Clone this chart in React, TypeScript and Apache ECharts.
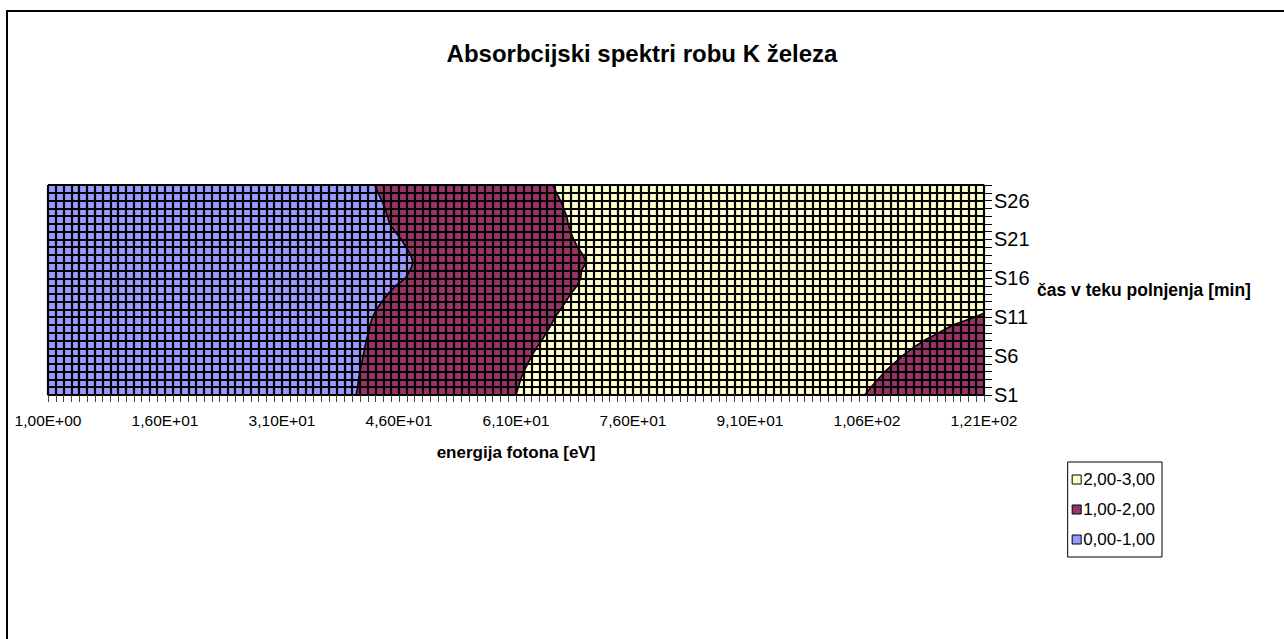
import React, { useEffect, useRef } from 'react';
import * as echarts from 'echarts';

// ---- data ----
const energyMin = 1;
const energyMax = 121;
const energyLabelStep = 15;
const rowLabels = ['S1','S2','S3','S4','S5','S6','S7','S8','S9','S10','S11','S12','S13','S14','S15','S16','S17','S18','S19','S20','S21','S22','S23','S24','S25','S26','S27','S28'];
const rowNumbers = [1,2,3,4,5,6,7,8,9,10,11,12,13,14,15,16,17,18,19,20,21,22,23,24,25,26,27,28];
const rowLabelStep = 5;

const bandNames = ['0,00-1,00', '1,00-2,00', '2,00-3,00'];
const bandColors = ['#9999FF', '#993366', '#FFFFCC'];

// energy at which value crosses 1.00 (blue -> maroon), per row S1..S28
const boundary1 = [40.5, 40.7, 40.8, 41.0, 41.2, 41.4, 41.6, 41.8, 42.1, 42.3, 42.6, 43.1, 43.8, 44.6, 45.5, 46.8, 47.4, 47.8, 47.5, 46.9, 46.3, 45.5, 44.8, 44.5, 44.2, 43.8, 43.3, 42.9];
// energy at which value crosses 2.00 (maroon -> yellow), per row S1..S28
const boundary2 = [61.0, 61.3, 61.6, 62.0, 62.5, 63.0, 63.6, 64.3, 64.9, 65.5, 66.0, 66.7, 67.4, 68.0, 68.8, 69.3, 69.4, 70.0, 69.6, 68.9, 68.4, 68.0, 67.7, 67.5, 67.1, 66.7, 66.2, 65.7];
// energy at which value falls back below 2.00 at high energy (yellow -> maroon), rows S1..S11
const boundary3 = [105.7, 106.5, 107.4, 108.3, 109.4, 110.5, 111.8, 113.3, 115.2, 117.0, 119.8];
const boundary3EndRow = 11.5;

const FONT = '"Liberation Sans", Arial, sans-serif';

function sci(v: number): string {
  const [m, e] = v.toExponential(2).split('e');
  const sign = e[0] === '-' ? '-' : '+';
  const digits = e.replace(/[+-]/, '').padStart(2, '0');
  return m.replace('.', ',') + 'E' + sign + digits;
}

export default function App() {
  const ref = useRef<HTMLDivElement>(null);
  useEffect(() => {
    if (!ref.current) return;
    const chart = echarts.init(ref.current, null, { renderer: 'svg' });
    const rMin = rowNumbers[0];
    const rMax = rowNumbers[rowNumbers.length - 1];

    const line = (api: any, xs: number[], rows: number[]) => xs.map((x, i) => api.coord([x, rows[i]]));

    const option: any = {
      animation: false,
      backgroundColor: '#fff',
      title: {
        text: 'Absorbcijski spektri robu K železa',
        left: 'center',
        top: 36,
        textStyle: { fontFamily: FONT, fontSize: 24, fontWeight: 'bold', color: '#000' },
      },
      legend: {
        orient: 'vertical',
        right: 1284 - 1162,
        top: 462,
        data: [bandNames[2], bandNames[1], bandNames[0]],
        icon: 'rect',
        itemWidth: 9,
        itemHeight: 9,
        itemGap: 13,
        padding: [9, 7, 9, 4],
        borderColor: '#000',
        borderWidth: 1,
        itemStyle: { borderColor: '#000', borderWidth: 1 },
        textStyle: { fontFamily: FONT, fontSize: 17, color: '#000', padding: [0, 0, 0, -3] },
      },
      grid: { left: 48, right: 300, top: 185, bottom: 244, outerBoundsMode: 'none' },
      xAxis: {
        type: 'value',
        min: energyMin,
        max: energyMax,
        interval: 1,
        z: 3,
        name: 'energija fotona [eV]',
        nameLocation: 'middle',
        nameGap: 49,
        nameTextStyle: { fontFamily: FONT, fontSize: 17, fontWeight: 'bold', color: '#000' },
        axisLine: { show: true, lineStyle: { color: '#000', width: 1 } },
        axisTick: { show: true, length: 7, lineStyle: { color: '#444' } },
        splitLine: { show: true, lineStyle: { color: '#000', width: 2.2 } },
        axisLabel: {
          margin: 17,
          fontFamily: FONT,
          fontSize: 15.5,
          color: '#000',
          formatter: (v: number) => ((v - energyMin) % energyLabelStep === 0 ? sci(v) : ''),
        },
      },
      yAxis: {
        type: 'value',
        position: 'right',
        min: rMin,
        max: rMax,
        interval: 1,
        z: 3,
        name: 'čas v teku polnjenja [min]',
        nameLocation: 'middle',
        nameRotate: 0,
        nameGap: 53,
        nameTextStyle: { fontFamily: FONT, fontSize: 17.5, fontWeight: 'bold', color: '#000', align: 'left', verticalAlign: 'middle', padding: [4, 0, 0, 0] },
        axisLine: { show: true, lineStyle: { color: '#000', width: 1 } },
        axisTick: { show: true, length: 8, lineStyle: { color: '#000' } },
        splitLine: { show: true, lineStyle: { color: '#000', width: 2.2 } },
        axisLabel: {
          margin: 10,
          fontFamily: FONT,
          fontSize: 20,
          color: '#000',
          formatter: (v: number) => ((v - rMin) % rowLabelStep === 0 ? rowLabels[v - rMin] : ''),
        },
      },
      graphic: [
        {
          type: 'rect',
          shape: { x: 7, y: 11, width: 1300, height: 660 },
          style: { fill: 'none', stroke: '#000', lineWidth: 2 },
          silent: true,
        },
      ],
      series: [
        {
          name: bandNames[2],
          type: 'custom',
          itemStyle: { color: bandColors[2] },
          data: [[energyMin, rMin]],
          renderItem: (params: any, api: any) => ({
            type: 'polygon',
            shape: {
              points: [
                api.coord([energyMin, rMin]),
                api.coord([energyMax, rMin]),
                api.coord([energyMax, rMax]),
                api.coord([energyMin, rMax]),
              ],
            },
            style: { fill: bandColors[2] },
          }),
        },
        {
          name: bandNames[1],
          type: 'custom',
          itemStyle: { color: bandColors[1] },
          data: [[energyMin, rMin]],
          renderItem: (params: any, api: any) => ({
            type: 'group',
            children: [
              {
                type: 'polygon',
                shape: {
                  points: [api.coord([energyMin, rMin]), ...line(api, boundary2, rowNumbers), api.coord([energyMin, rMax])],
                },
                style: { fill: bandColors[1] },
              },
              {
                type: 'polygon',
                shape: {
                  points: [
                    ...line(api, boundary3, rowNumbers),
                    api.coord([energyMax, boundary3EndRow]),
                    api.coord([energyMax, rMin]),
                  ],
                },
                style: { fill: bandColors[1] },
              },
            ],
          }),
        },
        {
          name: bandNames[0],
          type: 'custom',
          itemStyle: { color: bandColors[0] },
          data: [[energyMin, rMin]],
          renderItem: (params: any, api: any) => ({
            type: 'polygon',
            shape: {
              points: [api.coord([energyMin, rMin]), ...line(api, boundary1, rowNumbers), api.coord([energyMin, rMax])],
            },
            style: { fill: bandColors[0] },
          }),
        },
        {
          name: 'contours',
          type: 'custom',
          z: 5,
          data: [[energyMin, rMin]],
          renderItem: (params: any, api: any) => ({
            type: 'group',
            children: [
              { type: 'polyline', shape: { points: line(api, boundary1, rowNumbers) }, style: { stroke: '#000', lineWidth: 1.6, fill: null } },
              { type: 'polyline', shape: { points: line(api, boundary2, rowNumbers) }, style: { stroke: '#000', lineWidth: 1.6, fill: null } },
              {
                type: 'polyline',
                shape: { points: [...line(api, boundary3, rowNumbers), api.coord([energyMax, boundary3EndRow])] },
                style: { stroke: '#000', lineWidth: 1.6, fill: null },
              },
            ],
          }),
        },
      ],
    };
    chart.setOption(option);
    return () => chart.dispose();
  }, []);
  return <div ref={ref} style={{ position: 'absolute', left: 0, top: 0, width: 1284, height: 639 }} />;
}
